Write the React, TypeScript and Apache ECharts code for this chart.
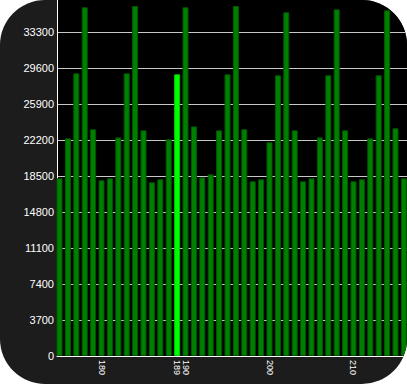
import React, { useEffect, useRef } from "react";
import * as echarts from "echarts";

const categories: number[] = [
  175, 176, 177, 178, 179, 180, 181, 182, 183, 184, 185, 186, 187, 188,
  189, 190, 191, 192, 193, 194, 195, 196, 197, 198, 199, 200, 201, 202,
  203, 204, 205, 206, 207, 208, 209, 210, 211, 212, 213, 214, 215, 216,
];

const values: number[] = [
  18260, 22380, 29050, 35840, 23300, 18060, 18260, 22470, 29050, 35970,
  23190, 17850, 18160, 22270, 28950, 35840, 23600, 18360, 18670, 23190,
  28950, 35970, 23300, 17950, 18160, 21960, 28850, 35320, 23190, 17950,
  18260, 22470, 28850, 35630, 23190, 17950, 18160, 22370, 28850, 35530,
  23400, 18260,
];

const highlighted = 189;
const xLabelValues: number[] = [180, 189, 190, 200, 210];
const yMax = 36590;
const yInterval = 3700;

export default function App() {
  const ref = useRef<HTMLDivElement>(null);

  useEffect(() => {
    document.body.style.margin = "0";
    document.body.style.background = "#ffffff";
    if (!ref.current) return;
    const chart = echarts.init(ref.current, undefined, { renderer: "svg" });
    const data = categories.map((c, i) => ({
      value: [c, values[i]],
      itemStyle:
        c === highlighted
          ? { color: "#00ff00", borderColor: "#00c800", borderWidth: 1 }
          : { color: "#008000", borderColor: "#005800", borderWidth: 1 },
    }));
    chart.setOption({
      animation: false,
      backgroundColor: "transparent",
      textStyle: { fontFamily: "Liberation Sans" },
      grid: {
        left: 57,
        right: 0,
        top: 0,
        bottom: 28,
        show: true,
        backgroundColor: "#000000",
        borderWidth: 0,
        containLabel: false,
      },
      xAxis: {
        type: "value",
        min: 174.7,
        max: 216.37,
        axisLine: { show: true, onZero: false, lineStyle: { color: "#ffffff", width: 1 } },
        axisTick: { show: false },
        splitLine: { show: false },
        axisLabel: {
          customValues: xLabelValues,
          rotate: -90,
          color: "#ffffff",
          fontSize: 9,
          margin: 4,
          fontFamily: "Liberation Sans",
        },
      },
      yAxis: {
        type: "value",
        min: 0,
        max: yMax,
        interval: yInterval,
        axisLine: { show: true, lineStyle: { color: "#ffffff", width: 1 } },
        axisTick: { show: false },
        splitLine: {
          show: true,
          showMaxLine: false,
          showMinLine: false,
          lineStyle: { color: "#c8c8c8", width: 1 },
        },
        axisLabel: {
          showMaxLabel: false,
          color: "#ffffff",
          fontSize: 11,
          margin: 3,
          fontFamily: "Liberation Sans",
          formatter: (v: number) => (v > 33300 + 1 ? "" : String(v)),
        },
      },
      series: [
        {
          type: "bar",
          data,
          barWidth: 6,
        },
      ],
    });
    return () => chart.dispose();
  }, []);

  return (
    <div
      style={{
        width: 407,
        height: 384,
        background: "#1c1c1c",
        borderRadius: 45,
        overflow: "hidden",
      }}
    >
      <div ref={ref} style={{ width: 407, height: 384 }} />
    </div>
  );
}
